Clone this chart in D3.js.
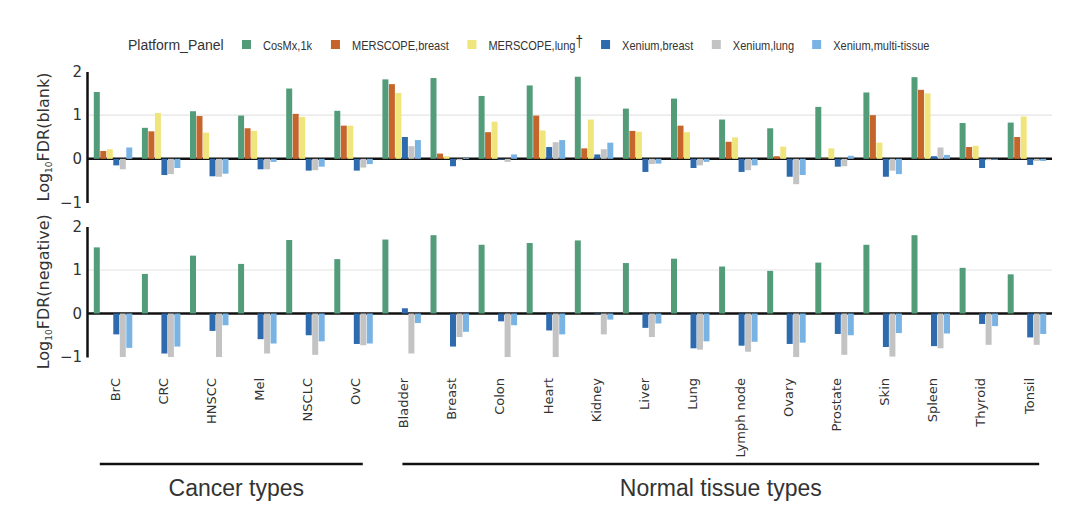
<!DOCTYPE html>
<html>
<head>
<meta charset="utf-8">
<script src="https://cdn.jsdelivr.net/npm/d3@7"></script>
<style>
  body { margin: 0; background: #fff; }
  svg text { font-family: "DejaVu Sans", Verdana, sans-serif; }
</style>
</head>
<body>
<svg id="chart" width="1080" height="509"></svg>
<script>
// categories along x
var cats = ["BrC", "CRC", "HNSCC", "Mel", "NSCLC", "OvC",
  "Bladder", "Breast", "Colon", "Heart", "Kidney", "Liver", "Lung",
  "Lymph node", "Ovary", "Prostate", "Skin", "Spleen", "Thyroid", "Tonsil"]
var series = ["CosMx,1k", "MERSCOPE,breast", "MERSCOPE,lung", "Xenium,breast", "Xenium,lung", "Xenium,multi-tissue"]
var colors = ["#529c79", "#c6652b", "#efe57c", "#2e6aae", "#c3c3c3", "#79b3e4"]
var groupNames = ["Cancer types", "Normal tissue types"]
var groupSizes = [6, 14]
var yTicks = [-1, 0, 1, 2]

// log10 FDR (blank), one array per platform_panel
var blankCosmx     = [1.53, 0.71, 1.09, 0.99, 1.61, 1.10, 1.82, 1.85, 1.44, 1.68, 1.88, 1.15, 1.38, 0.90, 0.70, 1.19, 1.52, 1.87, 0.82, 0.83]
var blankMerBreast = [0.18, 0.63, 0.98, 0.70, 1.03, 0.76, 1.71, 0.12, 0.61, 0.99, 0.24, 0.64, 0.76, 0.39, 0.06, 0.01, 1.00, 1.58, 0.27, 0.50]
var blankMerLung   = [0.22, 1.05, 0.60, 0.64, 0.96, 0.76, 1.51, 0.06, 0.85, 0.65, 0.90, 0.62, 0.61, 0.49, 0.28, 0.24, 0.37, 1.50, 0.30, 0.97]
var blankXenBreast = [-0.15, -0.37, -0.40, -0.24, -0.27, -0.27, 0.50, -0.17, -0.02, 0.27, 0.10, -0.30, -0.21, -0.30, -0.41, -0.18, -0.41, 0.06, -0.21, -0.14]
var blankXenLung   = [-0.24, -0.35, -0.41, -0.24, -0.26, -0.20, 0.29, -0.03, -0.07, 0.38, 0.22, -0.12, -0.15, -0.26, -0.58, -0.17, -0.27, 0.26, -0.03, -0.05]
var blankXenMulti  = [0.26, -0.21, -0.34, -0.07, -0.18, -0.12, 0.43, 0.02, 0.10, 0.43, 0.37, -0.11, -0.07, -0.15, -0.37, 0.07, -0.35, 0.09, -0.02, -0.05]

// log10 FDR (negative); MERSCOPE panels have no values here
var negCosmx     = [1.52, 0.91, 1.33, 1.14, 1.69, 1.25, 1.70, 1.80, 1.58, 1.62, 1.68, 1.16, 1.26, 1.08, 0.98, 1.17, 1.58, 1.80, 1.05, 0.90]
var negXenBreast = [-0.48, -0.92, -0.40, -0.59, -0.50, -0.70, 0.12, -0.76, -0.18, -0.39, -0.02, -0.33, -0.80, -0.74, -0.70, -0.47, -0.77, -0.75, -0.24, -0.55]
var negXenLung   = [-1.00, -1.00, -1.00, -0.92, -0.95, -0.73, -0.92, -0.54, -1.00, -1.00, -0.48, -0.54, -0.83, -0.88, -1.00, -0.95, -0.99, -0.80, -0.72, -0.72]
var negXenMulti  = [-0.79, -0.76, -0.27, -0.69, -0.64, -0.69, -0.22, -0.42, -0.27, -0.48, -0.14, -0.23, -0.64, -0.65, -0.67, -0.50, -0.45, -0.46, -0.29, -0.47]

var panels = [
  {label: "blank", top: 71.5, bottom: 202.5,
   values: [blankCosmx, blankMerBreast, blankMerLung, blankXenBreast, blankXenLung, blankXenMulti]},
  {label: "negative", top: 226.5, bottom: 357,
   values: [negCosmx, null, null, negXenBreast, negXenLung, negXenMulti]}
]

var svg = d3.select("#chart")
var xLeft = 87, xRight = 1052

var x0 = d3.scaleBand().domain(cats).range([89, 1051]).paddingInner(0.2).paddingOuter(0.1)
var x1 = d3.scaleBand().domain(series).range([0, x0.bandwidth()]).paddingInner(0.08)

panels.forEach(function (p) {
  var y = d3.scaleLinear().domain([-1, 2]).range([p.bottom, p.top])
  var g = svg.append("g")

  // grid line at 1
  g.append("line")
    .attr("x1", xLeft).attr("x2", xRight)
    .attr("y1", y(1)).attr("y2", y(1))
    .style("stroke", "#e4e4e4").style("stroke-width", 1.2)

  // zero line
  g.append("line")
    .attr("x1", xLeft).attr("x2", xRight)
    .attr("y1", y(0)).attr("y2", y(0))
    .style("stroke", "#111").style("stroke-width", 2.5)

  // bars
  p.values.forEach(function (vals, si) {
    if (!vals) return
    g.append("g").selectAll("rect")
      .data(vals)
      .join("rect")
      .attr("x", function (d, i) { return x0(cats[i]) + x1(series[si]) })
      .attr("width", x1.bandwidth())
      .attr("y", function (d) { return y(Math.max(d, 0)) })
      .attr("height", function (d) { return Math.abs(y(d) - y(0)) })
      .style("fill", colors[si])
  })

  // y axis
  var ax = g.append("g")
    .attr("transform", "translate(" + xLeft + ",0)")
    .call(d3.axisLeft(y).tickValues(yTicks).tickSize(0).tickPadding(5)
      .tickFormat(function (d) { return d < 0 ? "\u2212" + Math.abs(d) : d }))
  ax.select(".domain").style("stroke", "#111").style("stroke-width", 2.5)
  ax.selectAll("text").style("font-size", "15px").style("fill", "#333")
    .style("font-family", "'DejaVu Sans', Verdana, sans-serif")

  // y label
  var lab = g.append("text")
    .attr("transform", "translate(49," + ((p.top + p.bottom) / 2) + ") rotate(-90)")
    .attr("text-anchor", "middle")
    .style("font-size", "16px").style("fill", "#333")
  lab.append("tspan").text("Log")
  lab.append("tspan").text("10").attr("dy", 3).style("font-size", "9px")
  lab.append("tspan").text("FDR(" + p.label + ")").attr("dy", -3)
})

// category labels
svg.append("g").selectAll("text")
  .data(cats)
  .join("text")
  .attr("transform", function (d) {
    return "translate(" + (x0(d) + x0.bandwidth() / 2 + 2) + ",378) rotate(-90)"
  })
  .attr("text-anchor", "end")
  .attr("dy", "0.35em")
  .style("font-size", "13px").style("fill", "#333")
  .text(function (d) { return d })

// group brackets
var start = 0
var bracketPad = [[6, 10], [20, 7]]
groupNames.forEach(function (name, gi) {
  var first = cats[start], last = cats[start + groupSizes[gi] - 1]
  var a = x0(first) + bracketPad[gi][0]
  var b = x0(last) + x0.bandwidth() - bracketPad[gi][1]
  svg.append("line")
    .attr("x1", a).attr("x2", b).attr("y1", 464).attr("y2", 464)
    .style("stroke", "#111").style("stroke-width", 2.5)
  svg.append("text")
    .attr("x", (a + b) / 2 + (gi == 0 ? 5 : 0)).attr("y", 496)
    .attr("text-anchor", "middle")
    .style("font-family", "'Liberation Sans', Arial, sans-serif")
    .style("font-size", "23px").style("fill", "#333")
    .text(name)
  start += groupSizes[gi]
})

// legend
var lg = svg.append("g").attr("transform", "translate(0,50)")
lg.append("text").attr("x", 128).attr("y", 0)
  .style("font-family", "'Liberation Sans', Arial, sans-serif")
  .style("font-size", "14px").style("fill", "#333")
  .text("Platform_Panel")
var lx = 242
series.forEach(function (s, i) {
  lg.append("rect").attr("x", lx).attr("y", -10).attr("width", 9).attr("height", 9)
    .style("fill", colors[i])
  var t = lg.append("text")
    .attr("transform", "translate(" + (lx + 21) + ",0) scale(0.85,1)")
    .style("font-family", "'Liberation Sans', Arial, sans-serif")
    .style("font-size", "13px").style("fill", "#333")
  t.append("tspan").text(s)
  if (s == "MERSCOPE,lung") {
    t.append("tspan").text("\u2020").attr("dy", -3).style("font-size", "16px")
  }
  lx += 21 + t.node().getBBox().width * 0.85 + 18
})
</script>
</body>
</html>
